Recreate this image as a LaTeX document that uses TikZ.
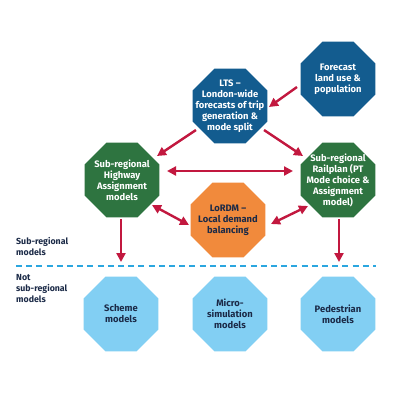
\documentclass[tikz,border=0pt]{standalone}
\usepackage{fontspec}
\setmainfont{Fira Sans}
\usetikzlibrary{shapes.geometric,arrows.meta}
\definecolor{navy}{HTML}{135C8F}
\definecolor{grn}{HTML}{2E7440}
\definecolor{org}{HTML}{F18A3C}
\definecolor{lblue}{HTML}{82CFF3}
\definecolor{dtext}{HTML}{1B2A47}
\definecolor{arr}{HTML}{C2183F}
\definecolor{dashcol}{HTML}{2BA6DF}
\tikzset{
  oct/.style={regular polygon, regular polygon sides=8, minimum size=81pt, inner sep=0pt, draw=none},
  txt/.style={align=center, font=\fontsize{9.4}{11}\selectfont\bfseries, inner sep=0pt},
  side/.style={align=left, anchor=north west, font=\fontsize{8.8}{11.2}\selectfont\bfseries, text=dtext, inner sep=0pt},
  arrow/.style={draw=arr, line width=2.4pt, -{Triangle[length=9pt,width=9pt]}},
  darrow/.style={draw=arr, line width=2.4pt, {Triangle[length=9pt,width=9pt]}-{Triangle[length=9pt,width=9pt]}}
}
\begin{document}
\begin{tikzpicture}[x=1pt,y=-1pt]
\useasboundingbox[fill=white] (0,0) rectangle (400,400);
% octagons
\node[oct, fill=navy] (fc) at (338,79) {};
\node[oct, fill=navy] (lts) at (230,106) {};
\node[oct, fill=grn] (hw) at (122,180) {};
\node[oct, fill=grn] (rp) at (338,180) {};
\node[oct, fill=org] (lo) at (228,220) {};
\node[oct, fill=lblue] (sc) at (121,314) {};
\node[oct, fill=lblue] (mi) at (230,314) {};
\node[oct, fill=lblue] (pe) at (338,314) {};
% texts
\node[txt, text=white] at (fc) {Forecast\\land use \&\\population};
\node[txt, text=white] at (lts) {LTS –\\London-wide\\forecasts of trip\\generation \&\\mode split};
\node[txt, text=white] at (hw) {Sub-regional\\Highway\\Assignment\\models};
\node[txt, text=white] at (rp) {Sub-regional\\Railplan (PT\\Mode choice \&\\Assignment\\model)};
\node[txt, text=dtext] at (lo) {LoRDM –\\Local demand\\balancing};
\node[txt, text=dtext] at (sc) {Scheme\\models};
\node[txt, text=dtext] at (mi) {Micro-\\simulation\\models};
\node[txt, text=dtext] at (pe) {Pedestrian\\models};
% side labels
\node[side] (l1) at (16,237) {Sub-regional\\models};
\node[side] (l2) at (16,274) {Not\\sub-regional\\models};
% dashed line
\coordinate (dl) at (16,266);
\coordinate (dr) at (376,266);
\draw[dashcol, line width=2.2pt, dash pattern=on 6pt off 4.2pt] (dl) -- (dr);
% arrows
\coordinate (hwd) at (121,262);
\coordinate (rpd) at (339,262);
\draw[arrow] (297,87) -- (269,107);
\draw[arrow] (196,130) -- (157,156);
\draw[arrow] (264,130) -- (303,156);
\draw[darrow] (167,171) -- (293,171);
\draw[darrow] (152,205) -- (189,225);
\draw[darrow] (308,206) -- (271,224);
\draw[arrow] (121,219) -- (hwd);
\draw[arrow] (339,219) -- (rpd);
\end{tikzpicture}
\end{document}
